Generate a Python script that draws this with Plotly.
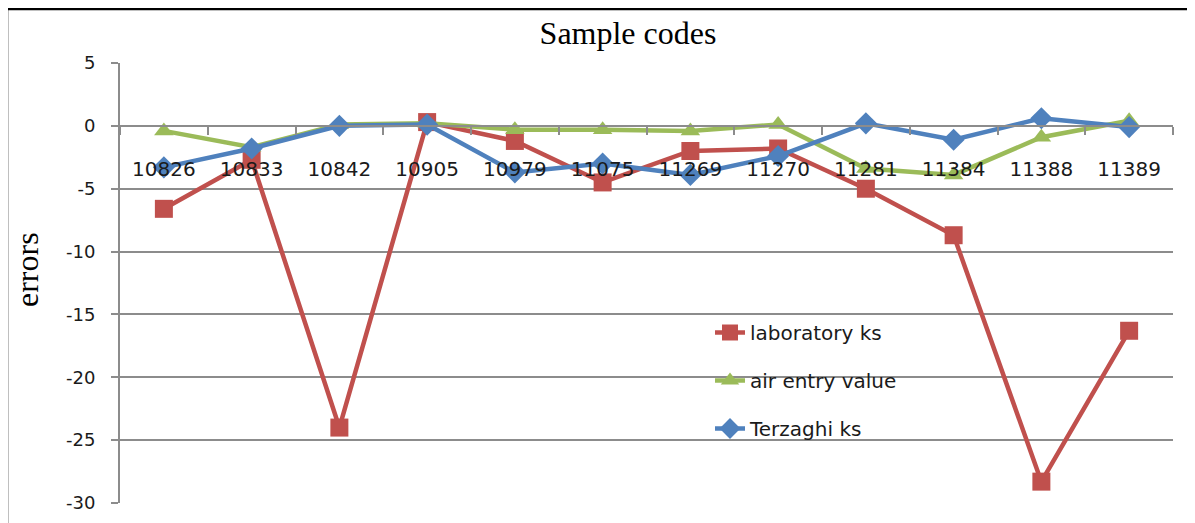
import plotly.graph_objects as go

categories = ["10826", "10833", "10842", "10905", "10979", "11075",
              "11269", "11270", "11281", "11384", "11388", "11389"]
laboratory_ks = [-6.6, -2.7, -24.0, 0.3, -1.2, -4.5, -2.0, -1.8, -5.0, -8.7, -28.3, -16.3]
air_entry_value = [-0.4, -1.7, 0.1, 0.2, -0.3, -0.3, -0.4, 0.1, -3.4, -3.9, -0.9, 0.4]
terzaghi_ks = [-3.3, -1.8, 0.0, 0.1, -3.7, -3.0, -3.9, -2.4, 0.2, -1.1, 0.6, -0.1]

y_ticks = [5, 0, -5, -10, -15, -20, -25, -30]
y_tick_text = [str(v) for v in y_ticks]

RED = "#C0504D"
GREEN = "#9BBB59"
BLUE = "#4F81BD"
GRID = "#8C8C8C"

# page body has an 8px margin: figure origin sits at (8, 8) in the screenshot
OFF = 8
W, H = 1195 - OFF, 523 - OFF
PL, PR, PT, PB = 120 - OFF, 1173 - OFF, 63 - OFF, 503 - OFF
PW, PH = PR - PL, PB - PT

fig = go.Figure()
fig.add_trace(go.Scatter(
    x=categories, y=laboratory_ks, name="laboratory ks", mode="lines+markers",
    line=dict(color=RED, width=4.5), legendgroup="a",
    marker=dict(symbol="square", size=18, color=RED)))
fig.add_trace(go.Scatter(
    x=categories, y=air_entry_value, name="air entry value", mode="lines+markers",
    line=dict(color=GREEN, width=4.5), legendgroup="b",
    marker=dict(symbol="triangle-up", size=17, color=GREEN)))
fig.add_trace(go.Scatter(
    x=categories, y=terzaghi_ks, name="Terzaghi ks", mode="lines+markers",
    line=dict(color=BLUE, width=4.5), legendgroup="c",
    marker=dict(symbol="diamond", size=17, color=BLUE)))

fig.update_layout(
    width=W, height=H,
    margin=dict(l=PL, r=W - PR, t=PT, b=H - PB, autoexpand=False),
    paper_bgcolor="white", plot_bgcolor="white",
    hovermode=False,
    font=dict(family="DejaVu Sans", color="#1a1a1a"),
    title=dict(text="Sample codes", x=(628 - 120) / 1053, xref="paper", xanchor="center",
               y=1 - (33 - OFF) / H, yanchor="middle",
               font=dict(family="Liberation Serif", size=32, color="black")),
    legend=dict(x=(710 - 120) / 1053, y=(503 - 313) / 440, xanchor="left", yanchor="top",
                bgcolor="rgba(0,0,0,0)", tracegroupgap=19,
                font=dict(family="DejaVu Sans", size=20, color="#1a1a1a")),
    showlegend=True,
    xaxis=dict(type="category", categoryorder="array", categoryarray=categories,
               range=[-0.5, 11.5], anchor="free", position=30 / 35, automargin=False,
               showline=True, linecolor=GRID, linewidth=2,
               showgrid=False, zeroline=False,
               ticks="outside", tickson="boundaries", ticklen=8, tickcolor=GRID, tickwidth=2,
               ticklabelstandoff=25,
               tickfont=dict(family="DejaVu Sans", size=20, color="#1a1a1a")),
    yaxis=dict(range=[-30, 5], tickvals=y_ticks, ticktext=y_tick_text, domain=[0, 1],
               automargin=False,
               showline=True, linecolor=GRID, linewidth=2,
               showgrid=True, gridcolor=GRID, gridwidth=2, zeroline=False,
               ticks="outside", ticklen=7, tickcolor=GRID, tickwidth=2,
               ticklabelstandoff=12,
               tickfont=dict(family="DejaVu Sans", size=18, color="#1a1a1a")),
)

fig.add_annotation(text="errors", textangle=-90, xref="paper", yref="paper",
                   x=(27 - 120) / 1053, y=(503 - 270) / 440, xanchor="center", yanchor="middle",
                   showarrow=False, font=dict(family="Liberation Serif", size=32, color="black"))

# outer chart frame (left and top edges)
x_left = (7 - 120) / 1053
y_top = (503 - 9) / 440
fig.add_shape(type="line", xref="paper", yref="paper", x0=x_left, x1=x_left,
              y0=-0.2, y1=y_top, line=dict(color="black", width=2.5))
fig.add_shape(type="line", xref="paper", yref="paper", x0=x_left, x1=1.1,
              y0=y_top, y1=y_top, line=dict(color="black", width=2.5))

fig.write_html("out.html")
